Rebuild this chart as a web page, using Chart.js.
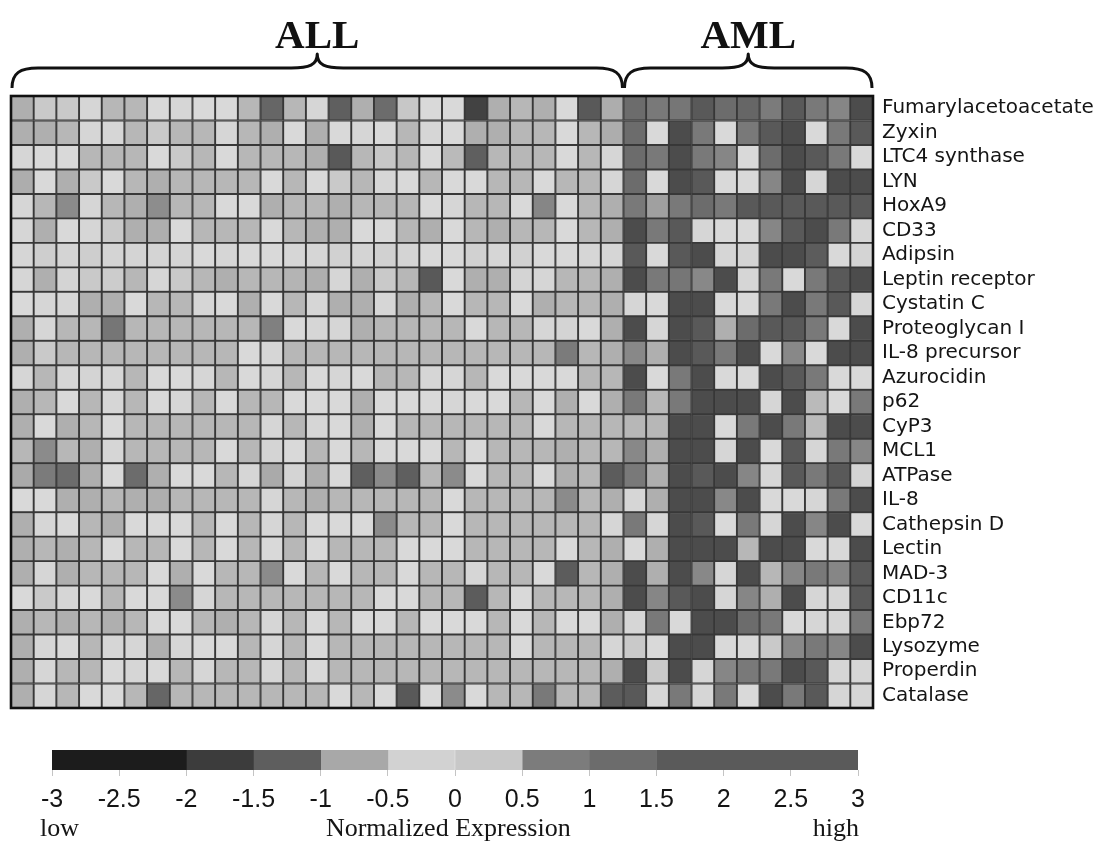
<!DOCTYPE html>
<html><head><meta charset="utf-8">
<script src="https://cdn.jsdelivr.net/npm/chart.js@4.4.1/dist/chart.umd.min.js"></script>
<style>
html,body{margin:0;padding:0;background:#fff;}
#wrap{position:relative;width:1109px;height:858px;overflow:hidden;}
canvas{display:block;}
</style></head><body>
<div id="wrap">
<canvas id="heat" width="1109" height="730"></canvas>
<canvas id="bar" width="1109" height="128"></canvas>
</div>
<script>
// ---------- data ----------
const genes = ['Fumarylacetoacetate','Zyxin','LTC4 synthase','LYN','HoxA9','CD33','Adipsin','Leptin receptor','Cystatin C','Proteoglycan I','IL-8 precursor','Azurocidin','p62','CyP3','MCL1','ATPase','IL-8','Cathepsin D','Lectin','MAD-3','CD11c','Ebp72','Lysozyme','Properdin','Catalase'];
const groupNames = ['ALL','AML'];
const allSamples = Array.from({length:27},(_,i)=>'ALL '+(i+1));
const amlSamples = Array.from({length:11},(_,i)=>'AML '+(i+1));

// normalized expression, one row per gene, ALL patients
const allExpr = [
 [0.9,0.4,0.4,0.15,0.75,0.75,0.1,0.15,0.1,0.1,0.75,2.3,0.75, 0.15,2.45,0.9,2.2,0.45,0.1,0.1,3.0,0.9,0.75,0.9,0.1,2.55, 0.95],
 [0.9,0.9,0.75,0.15,0.15,0.75,0.4,0.75,0.75,0.15,0.75,0.9,0.1, 0.9,0.1,0.15,0.1,0.75,0.15,0.1,0.9,0.9,0.75,0.75,0.1,0.75, 0.95],
 [0.15,0.1,0.1,0.75,0.75,0.75,0.1,0.4,0.75,0.1,0.75,0.75,0.75, 0.9,2.55,0.75,0.45,0.75,0.1,0.7,2.45,0.75,0.75,0.75,0.1,0.75, 0.15],
 [0.95,0.1,0.9,0.4,0.1,0.75,0.9,0.75,0.75,0.75,0.75,0.1,0.75, 0.1,0.4,0.75,0.15,0.1,0.75,0.1,0.1,0.75,0.75,0.1,0.75,0.75, 0.15],
 [0.15,0.75,1.6,0.15,0.75,0.9,1.55,0.75,0.75,0.1,0.1,0.9,0.75, 0.75,0.9,0.75,0.75,0.75,0.1,0.15,0.75,0.75,0.1,1.7,0.1,0.75, 0.9],
 [0.15,0.9,0.1,0.15,0.4,0.9,0.9,0.1,0.75,0.75,0.75,0.1,0.75, 0.9,0.9,0.1,0.1,0.75,0.9,0.1,0.75,0.9,0.75,0.75,0.1,0.75, 0.9],
 [0.15,0.3,0.2,0.3,0.2,0.2,0.2,0.2,0.1,0.15,0.1,0.1,0.15, 0.15,0.25,0.2,0.25,0.2,0.1,0.1,0.25,0.15,0.25,0.1,0.1,0.15, 0.15],
 [0.15,0.9,0.2,0.4,0.35,0.75,0.15,0.4,0.75,0.9,0.75,0.75,0.8, 0.9,0.15,0.9,0.4,0.75,2.55,0.1,0.9,0.9,0.2,0.15,0.75,0.75, 0.9],
 [0.1,0.15,0.15,0.9,0.9,0.1,0.75,0.75,0.15,0.1,0.9,0.1,0.75, 0.15,0.9,0.9,0.15,0.9,0.75,0.1,0.75,0.75,0.1,0.9,0.75,0.75, 0.9],
 [0.9,0.15,0.75,0.75,2.0,0.75,0.75,0.75,0.75,0.75,0.75,1.8,0.1, 0.15,0.15,0.9,0.75,0.75,0.75,0.75,0.1,0.75,0.75,0.15,0.2,0.1, 0.9],
 [0.9,0.4,0.75,0.75,0.75,0.75,0.75,0.75,0.75,0.75,0.1,0.15,0.75, 0.75,0.75,0.75,0.75,0.75,0.75,0.75,0.75,0.75,0.75,0.75,1.9,0.75, 0.9],
 [0.15,0.75,0.15,0.2,0.15,0.75,0.1,0.1,0.15,0.75,0.1,0.15,0.75, 0.1,0.15,0.1,0.75,0.75,0.15,0.15,0.75,0.1,0.1,0.1,0.1,0.75, 0.75],
 [0.9,0.75,0.1,0.75,0.15,0.75,0.1,0.15,0.75,0.1,0.75,0.75,0.1, 0.1,0.1,0.9,0.1,0.1,0.1,0.15,0.1,0.1,0.75,0.1,0.9,0.1, 0.9],
 [0.9,0.1,0.9,0.75,0.1,0.75,0.75,0.75,0.75,0.75,0.75,0.15,0.75, 0.15,0.1,0.9,0.1,0.75,0.75,0.75,0.75,0.75,0.75,0.1,0.75,0.75, 0.75],
 [0.75,1.6,0.75,0.9,0.15,0.75,0.75,0.75,0.75,0.1,0.75,0.2,0.1, 0.75,0.1,0.75,0.1,0.1,0.1,0.75,0.1,0.75,0.75,0.75,0.9,0.75, 0.75],
 [1.0,1.9,2.2,0.9,0.1,2.2,0.9,0.1,0.1,0.75,0.15,1.0,0.2, 0.9,0.1,2.45,1.6,2.45,0.75,1.6,0.1,0.75,0.75,0.1,0.9,0.75, 2.5],
 [0.1,0.1,0.9,0.9,0.75,0.9,0.9,0.75,0.75,0.75,0.75,0.15,0.75, 0.9,0.75,0.75,0.75,0.75,0.75,0.1,0.75,0.75,0.75,0.75,1.6,0.75, 0.9],
 [0.9,0.15,0.1,0.75,0.9,0.1,0.1,0.1,0.75,0.1,0.75,0.15,0.75, 0.1,0.1,0.1,1.6,0.75,0.75,0.1,0.75,0.75,0.75,0.75,0.75,0.75, 0.15],
 [0.9,0.75,0.9,0.75,0.1,0.75,0.75,0.1,0.75,0.1,0.75,0.1,0.75, 0.1,0.75,0.75,0.75,0.1,0.1,0.1,0.75,0.75,0.75,0.75,0.1,0.75, 0.9],
 [0.9,0.15,0.9,0.75,0.75,0.75,0.1,0.9,0.1,0.75,0.75,1.6,0.1, 0.75,0.1,0.75,0.75,0.1,0.75,0.75,0.15,0.75,0.75,0.1,2.5,0.75, 0.9],
 [0.1,0.4,0.15,0.1,0.75,0.1,0.1,1.6,0.15,0.75,0.75,0.75,0.75, 0.75,0.75,0.75,0.1,0.1,0.75,0.75,2.5,0.75,0.1,0.75,0.75,0.75, 0.9],
 [0.9,0.75,0.9,0.75,0.9,0.75,0.1,0.1,0.75,0.9,0.75,0.15,0.75, 0.1,0.75,0.1,0.1,0.75,0.1,0.1,0.1,0.75,0.1,0.75,0.1,0.1, 0.9],
 [0.9,0.15,0.1,0.75,0.15,0.15,0.9,0.15,0.1,0.1,0.75,0.15,0.75, 0.1,0.75,0.75,0.75,0.75,0.75,0.75,0.75,0.75,0.1,0.75,0.75,0.75, 0.15],
 [0.9,0.15,0.75,0.75,0.1,0.15,0.1,0.75,0.15,0.75,0.75,0.15,0.75, 0.1,0.75,0.75,0.75,0.75,0.75,0.75,0.75,0.75,0.75,0.75,0.75,0.75, 0.9],
 [0.9,0.15,0.75,0.1,0.1,0.75,2.3,0.75,0.75,0.75,0.75,0.75,0.75, 0.75,0.1,0.75,0.1,2.55,0.1,1.6,0.1,0.75,0.75,1.95,0.75,0.75, 2.5]
];
// normalized expression, one row per gene, AML patients
const amlExpr = [
 [2.2,1.95,2.0,2.55,2.2,2.3,1.9,2.55,1.95,1.7,2.8],
 [2.2,0.1,2.8,1.95,0.1,1.95,2.55,2.8,0.1,1.95,2.55],
 [2.2,1.95,2.8,1.95,1.7,0.1,2.2,2.8,2.55,1.95,0.1],
 [2.2,0.1,2.8,2.55,0.1,0.1,1.7,2.8,0.15,2.8,2.8],
 [1.95,1.2,1.95,2.2,1.95,2.55,2.55,2.55,2.55,2.55,2.55],
 [2.8,1.95,2.55,0.15,0.1,0.1,1.7,2.55,2.8,1.95,0.15],
 [2.55,0.1,2.55,2.8,0.15,0.2,2.8,2.8,2.5,0.1,0.2],
 [2.8,1.95,2.0,1.65,2.8,0.15,1.95,0.1,1.95,2.55,2.8],
 [0.15,0.1,2.8,2.8,0.1,0.1,1.95,2.8,1.95,2.55,0.15],
 [2.8,0.15,2.8,2.55,0.9,2.2,2.55,2.55,1.95,0.1,2.8],
 [1.65,0.9,2.8,2.55,1.95,2.8,0.1,1.65,0.1,2.8,2.8],
 [2.8,0.1,1.95,2.8,0.1,0.1,2.8,2.55,1.95,0.1,0.1],
 [1.95,0.75,1.95,2.8,2.8,2.8,0.15,2.8,0.7,0.1,1.95],
 [0.75,0.75,2.8,2.8,0.1,1.95,2.8,1.95,0.7,2.8,2.8],
 [1.65,0.9,2.8,2.8,0.15,2.8,0.1,2.55,0.15,1.95,1.7],
 [1.95,0.9,2.8,2.55,2.8,1.7,0.15,2.55,1.95,2.55,0.2],
 [0.15,0.9,2.8,2.8,1.65,2.8,0.1,0.1,0.15,1.95,2.8],
 [1.95,0.15,2.8,2.55,0.1,1.95,0.15,2.8,1.7,2.8,0.1],
 [0.1,0.9,2.8,2.8,2.8,0.75,2.8,2.8,0.1,0.1,2.8],
 [2.8,0.9,2.8,1.65,0.15,2.8,0.75,1.7,1.95,1.7,2.55],
 [2.8,1.7,2.55,2.8,0.15,1.7,0.9,2.8,0.15,0.15,2.55],
 [0.15,1.95,0.1,2.8,2.8,2.2,1.95,0.1,0.15,0.15,1.95],
 [0.4,0.1,2.8,2.8,0.1,0.1,0.4,1.65,1.95,1.7,2.8],
 [2.8,0.4,2.8,0.15,1.7,1.95,1.95,2.8,2.55,0.15,0.15],
 [2.55,0.15,1.95,0.15,1.95,0.1,2.8,1.95,2.55,0.15,0.15]
];
// colour-key
const keyTicks = [-3,-2.5,-2,-1.5,-1,-0.5,0,0.5,1,1.5,2,2.5,3];
const keyTickLabels = ['-3','-2.5','-2','-1.5','-1','-0.5','0','0.5','1','1.5','2','2.5','3'];
const keyBandEdges = [-3,-2,-1.5,-1,-0.5,0,0.5,1,1.5,3];
const keyBandGray = [28,60,94,168,210,200,124,108,90];

// ---------- helpers ----------
const samples = allSamples.concat(amlSamples);
function valueAt(g, s){ return s < allSamples.length ? allExpr[g][s] : amlExpr[g][s - allSamples.length]; }
function cellGray(v){
  const g = Math.round(222 - 52*Math.max(0, Math.min(3, v)));
  return 'rgb('+g+','+g+','+g+')';
}

// ---------- heatmap ----------
const heatDatasets = samples.map((name, s) => ({
  label: name,
  data: genes.map(() => 1),
  backgroundColor: genes.map((_, g) => cellGray(valueAt(g, s))),
  borderColor: '#383838',
  borderWidth: 1.3,
  borderSkipped: false,
  categoryPercentage: 1,
  barPercentage: 1
}));

function drawBrace(ctx, x1, x2, yEnd, yMid, yTip){
  const xm = (x1 + x2) / 2;
  const q = 26;
  ctx.beginPath();
  ctx.moveTo(x1, yEnd);
  ctx.bezierCurveTo(x1, yMid + 5, x1 + 8, yMid, x1 + q, yMid);
  ctx.lineTo(xm - q, yMid);
  ctx.bezierCurveTo(xm - 8, yMid, xm, yMid - 3, xm, yTip);
  ctx.bezierCurveTo(xm, yMid - 3, xm + 8, yMid, xm + q, yMid);
  ctx.lineTo(x2 - q, yMid);
  ctx.bezierCurveTo(x2 - 8, yMid, x2, yMid + 5, x2, yEnd);
  ctx.stroke();
}

const heatDecor = {
  id: 'heatDecor',
  afterDatasetsDraw(chart){
    const {ctx, chartArea: a, scales: {x}} = chart;
    ctx.save();
    ctx.strokeStyle = '#111';
    ctx.lineWidth = 2.6;
    ctx.strokeRect(a.left, a.top, a.right - a.left, a.bottom - a.top);
    const bounds = [[0, allSamples.length], [allSamples.length, samples.length]];
    ctx.lineWidth = 3;
    ctx.lineJoin = 'round';
    ctx.font = 'bold 41px "Liberation Serif", "Times New Roman", serif';
    ctx.fillStyle = '#111';
    ctx.textAlign = 'center';
    ctx.textBaseline = 'alphabetic';
    bounds.forEach((b, i) => {
      const x1 = x.getPixelForValue(b[0]) + 1, x2 = x.getPixelForValue(b[1]) - 1;
      drawBrace(ctx, x1, x2, a.top - 8, a.top - 28, a.top - 42);
      ctx.fillText(groupNames[i], (x1 + x2) / 2, a.top - 48);
    });
    ctx.restore();
  }
};

new Chart(document.getElementById('heat'), {
  type: 'bar',
  data: { labels: genes, datasets: heatDatasets },
  options: {
    indexAxis: 'y',
    responsive: false,
    animation: false,
    events: [],
    devicePixelRatio: 1,
    layout: { padding: { left: 11, top: 96, right: 0, bottom: 22 } },
    plugins: { legend: { display: false }, tooltip: { enabled: false } },
    scales: {
      x: { type: 'linear', stacked: true, min: 0, max: samples.length, display: false },
      y: {
        stacked: true,
        position: 'right',
        offset: true,
        grid: { display: false, drawTicks: false },
        border: { display: false },
        ticks: { autoSkip: false, padding: 9, color: '#151515',
                 font: { family: '"DejaVu Sans", "Liberation Sans", Arial, sans-serif', size: 20 } },
        afterFit(scale){ scale.width = 236; }
      }
    }
  },
  plugins: [heatDecor]
});

// ---------- colour key ----------
const keyText = {
  id: 'keyText',
  afterDraw(chart){
    const {ctx, scales: {x}} = chart;
    ctx.save();
    ctx.fillStyle = '#151515';
    ctx.font = '26px "Liberation Serif", "Times New Roman", serif';
    ctx.textBaseline = 'alphabetic';
    ctx.textAlign = 'left';
    ctx.fillText('low', x.getPixelForValue(-3) - 12, 106);
    ctx.textAlign = 'right';
    ctx.fillText('high', x.getPixelForValue(3) + 1, 106);
    ctx.textAlign = 'center';
    ctx.fillText('Normalized Expression', x.getPixelForValue(-0.05), 106);
    ctx.restore();
  }
};

new Chart(document.getElementById('bar'), {
  type: 'bar',
  data: {
    labels: ['key'],
    datasets: keyBandGray.map((g, i) => ({
      data: [[keyBandEdges[i], keyBandEdges[i + 1]]],
      backgroundColor: 'rgb(' + g + ',' + g + ',' + g + ')',
      borderWidth: 0,
      grouped: false,
      categoryPercentage: 1,
      barPercentage: 1
    }))
  },
  options: {
    indexAxis: 'y',
    responsive: false,
    animation: false,
    events: [],
    devicePixelRatio: 1,
    layout: { padding: { left: 52, right: 251, top: 20, bottom: 0 } },
    plugins: { legend: { display: false }, tooltip: { enabled: false } },
    scales: {
      x: {
        type: 'linear', min: -3, max: 3,
        afterBuildTicks(scale){ scale.ticks = keyTicks.map(v => ({ value: v })); },
        grid: { drawOnChartArea: false, drawTicks: true, tickLength: 6, color: '#c4c4c4' },
        border: { display: false },
        ticks: { autoSkip: false, maxRotation: 0, padding: 9, color: '#151515',
                 callback: (v, i) => keyTickLabels[i],
                 font: { family: '"Liberation Sans Narrow", "Liberation Sans", Arial, sans-serif', size: 25 } },
        afterFit(scale){ scale.height = 88; }
      },
      y: { display: false }
    }
  },
  plugins: [keyText]
});
</script>
</body></html>
